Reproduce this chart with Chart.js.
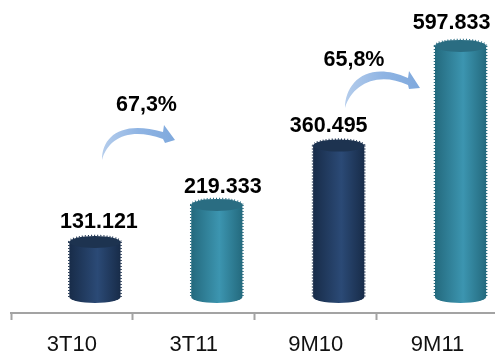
<!DOCTYPE html>
<html>
<head>
<meta charset="utf-8">
<title>3T11 / 9M11</title>
<script src="https://cdn.jsdelivr.net/npm/chart.js@4/dist/chart.umd.min.js"></script>
<style>
  html, body { margin: 0; padding: 0; background: #fff; overflow: hidden; }
  canvas { display: block; }
</style>
</head>
<body>
<canvas id="chart" width="500" height="352"></canvas>
<script>
const categories = ['3T10', '3T11', '9M10', '9M11'];
const values = [131121, 219333, 360495, 597833];
const growthLabels = ['67,3%', '65,8%'];

const navy = { edge: '#182c49', mid: '#2b4a76', top: '#1d3350' };
const teal = { edge: '#246a7e', mid: '#3c95b0', top: '#2a6d82' };
const barPalette = [navy, teal, navy, teal];

// the cylinders sit to the right of their category centre (fake 3D depth)
const depthShift = 23;
const capHeight = 6;
const labelGap = [20, 18, 20, 23];
const labelNudge = [4, 6, -10, -9];

function fmt(v) {
  return String(v).replace(/\B(?=(\d{3})+$)/g, '.');
}

function cylinder(ctx, cx, top, base, w, c) {
  const l = cx - w / 2;
  const r = cx + w / 2;

  const grad = ctx.createLinearGradient(l, 0, r, 0);
  grad.addColorStop(0, c.edge);
  grad.addColorStop(0.55, c.mid);
  grad.addColorStop(1, c.edge);

  ctx.beginPath();
  ctx.moveTo(l, top);
  ctx.lineTo(l, base);
  ctx.ellipse(cx, base, w / 2, capHeight, 0, Math.PI, 0, true);
  ctx.lineTo(r, top);
  ctx.closePath();
  ctx.fillStyle = grad;
  ctx.fill();

  ctx.beginPath();
  ctx.ellipse(cx, top, w / 2, capHeight, 0, 0, Math.PI * 2);
  ctx.fillStyle = c.top;
  ctx.fill();

  // jagged rim on the sides and top
  ctx.save();
  ctx.setLineDash([1, 2]);
  ctx.lineWidth = 1.5;
  ctx.strokeStyle = c.edge;
  ctx.beginPath();
  ctx.moveTo(l - 0.5, top);
  ctx.lineTo(l - 0.5, base);
  ctx.moveTo(r + 0.5, top);
  ctx.lineTo(r + 0.5, base);
  ctx.stroke();
  ctx.strokeStyle = c.top;
  ctx.beginPath();
  ctx.ellipse(cx, top, w / 2 + 0.5, capHeight + 0.5, 0, Math.PI, 0);
  ctx.stroke();
  ctx.restore();
}

function arrow(ctx, p) {
  const grad = ctx.createLinearGradient(p.tail[0], 0, p.tip[0], 0);
  grad.addColorStop(0, '#b5cdec');
  grad.addColorStop(0.5, '#8fb4e3');
  grad.addColorStop(1, '#7fa9dd');
  ctx.beginPath();
  ctx.moveTo(p.tail[0], p.tail[1]);
  ctx.bezierCurveTo(...p.outer);
  ctx.lineTo(p.headTop[0], p.headTop[1]);
  ctx.lineTo(p.tip[0], p.tip[1]);
  ctx.lineTo(p.headBottom[0], p.headBottom[1]);
  ctx.lineTo(p.neck[0], p.neck[1]);
  ctx.bezierCurveTo(...p.inner);
  ctx.closePath();
  ctx.fillStyle = grad;
  ctx.fill();
}

const cylinderPlugin = {
  id: 'cylinders',
  // replaces the flat rectangles with the cylinders
  beforeDatasetDraw(chart, args) {
    const ctx = chart.ctx;
    const meta = args.meta;
    const base = chart.scales.y.getPixelForValue(0);
    meta.data.forEach((el, i) => {
      cylinder(ctx, el.x + depthShift, el.y, base, el.width, barPalette[i]);
    });
    return false;
  },
  afterDatasetsDraw(chart) {
    const ctx = chart.ctx;
    const meta = chart.getDatasetMeta(0);

    arrow(ctx, {
      tail: [102, 160],
      outer: [102, 136, 122, 120, 163, 132],
      headTop: [164, 125],
      tip: [175, 140],
      headBottom: [165, 143],
      neck: [163, 139],
      inner: [130, 127, 108, 138, 102, 160]
    });
    arrow(ctx, {
      tail: [345, 108],
      outer: [345, 82, 368, 60, 408, 78],
      headTop: [409, 71],
      tip: [420, 88],
      headBottom: [409, 89],
      neck: [408, 85],
      inner: [378, 71, 352, 84, 345, 108]
    });

    ctx.save();
    ctx.fillStyle = '#000';
    ctx.font = 'bold 21.5px "Liberation Sans", Arial, sans-serif';
    ctx.textAlign = 'center';
    ctx.textBaseline = 'middle';
    meta.data.forEach((el, i) => {
      ctx.fillText(fmt(values[i]), el.x + depthShift + labelNudge[i], el.y - labelGap[i]);
    });
    ctx.fillText(growthLabels[0], 146.5, 105);
    ctx.fillText(growthLabels[1], 354, 60);
    ctx.restore();
  }
};

new Chart(document.getElementById('chart'), {
  type: 'bar',
  data: {
    labels: categories,
    datasets: [{
      data: values,
      backgroundColor: barPalette.map(c => c.mid),
      categoryPercentage: 1,
      barPercentage: 0.42
    }]
  },
  options: {
    responsive: false,
    animation: false,
    layout: { padding: { left: 11, right: 1.5, top: 3, bottom: 0 } },
    plugins: { legend: { display: false }, tooltip: { enabled: false } },
    scales: {
      x: {
        // fixed band under the axis line, the rest of the height goes to the bars
        afterFit(scale) { scale.height = 39; },
        grid: {
          drawOnChartArea: false,
          tickLength: 7,
          tickWidth: 2,
          tickColor: '#a3a3a3'
        },
        border: { color: '#a3a3a3', width: 2 },
        ticks: {
          color: '#111',
          padding: 14,
          maxRotation: 0,
          font: { family: '"Liberation Sans", Arial, sans-serif', size: 22, lineHeight: 1 }
        }
      },
      y: { display: false, min: -38000, max: 700000 }
    }
  },
  plugins: [cylinderPlugin]
});
</script>
</body>
</html>
